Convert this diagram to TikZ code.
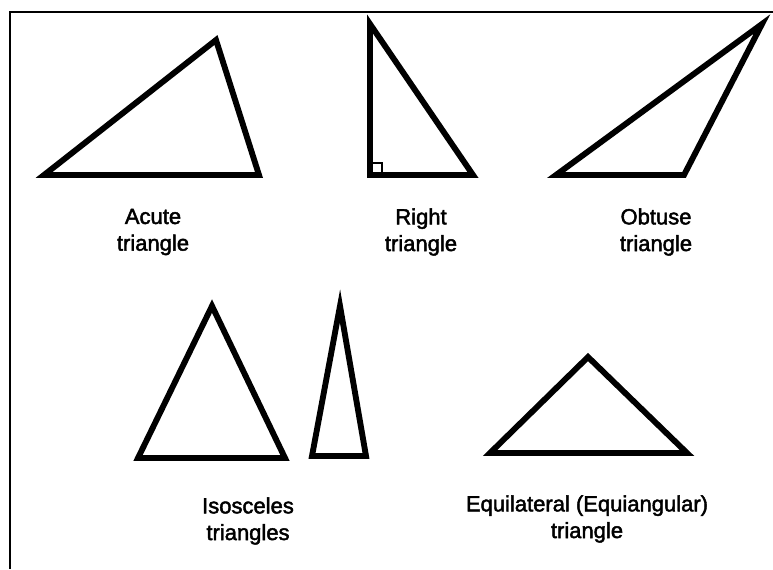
\documentclass[tikz,border=0pt]{standalone}
\usepackage{fontspec}
\setmainfont{Liberation Sans}
\newfontfamily\lblfont[FakeBold=2]{Liberation Sans}
\begin{document}
\begin{tikzpicture}[x=0.75pt,y=-0.75pt,
  tri/.style={line width=4.4pt,line join=miter,miter limit=20},
  frame/.style={line width=1.8pt},
  lbl/.style={align=center,font=\lblfont\fontsize{16.5}{20}\selectfont,inner sep=0pt}]
\useasboundingbox (0,0) rectangle (773,569);
\fill[white] (0,0) rectangle (773,569);
% frame
\coordinate (f1) at (773,12);
\coordinate (f2) at (10,12);
\coordinate (f3) at (10,569);
\draw[frame] (f1) -- (f2) -- (f3);
% acute
\coordinate (a1) at (44,175); \coordinate (a2) at (216,40); \coordinate (a3) at (259,175);
\draw[tri] (a1) -- (a2) -- (a3) -- cycle;
% right
\coordinate (r1) at (370,175); \coordinate (r2) at (370,24); \coordinate (r3) at (473,175);
\draw[tri] (r1) -- (r2) -- (r3) -- cycle;
\draw[line width=1.5pt] (370,163) -- (382,163) -- (382,175);
% obtuse
\coordinate (o1) at (556,175); \coordinate (o2) at (762,24); \coordinate (o3) at (684,175);
\draw[tri] (o1) -- (o2) -- (o3) -- cycle;
% isosceles
\coordinate (i1) at (138,458); \coordinate (i2) at (212,306); \coordinate (i3) at (285,458);
\draw[tri] (i1) -- (i2) -- (i3) -- cycle;
\coordinate (j1) at (312,456); \coordinate (j2) at (340,306); \coordinate (j3) at (366,456);
\draw[tri] (j1) -- (j2) -- (j3) -- cycle;
% equilateral
\coordinate (e1) at (490,453); \coordinate (e2) at (588,357); \coordinate (e3) at (687,453);
\draw[tri] (e1) -- (e2) -- (e3) -- cycle;
% labels
\node[lbl] (la) at (153,232) {Acute\\triangle};
\node[lbl] (lr) at (421,232) {Right\\triangle};
\node[lbl] (lo) at (656,232) {Obtuse\\triangle};
\node[lbl] (li) at (248,521) {Isosceles\\triangles};
\node[lbl] (le) at (587,519) {Equilateral (Equiangular)\\triangle};
\end{tikzpicture}
\end{document}
